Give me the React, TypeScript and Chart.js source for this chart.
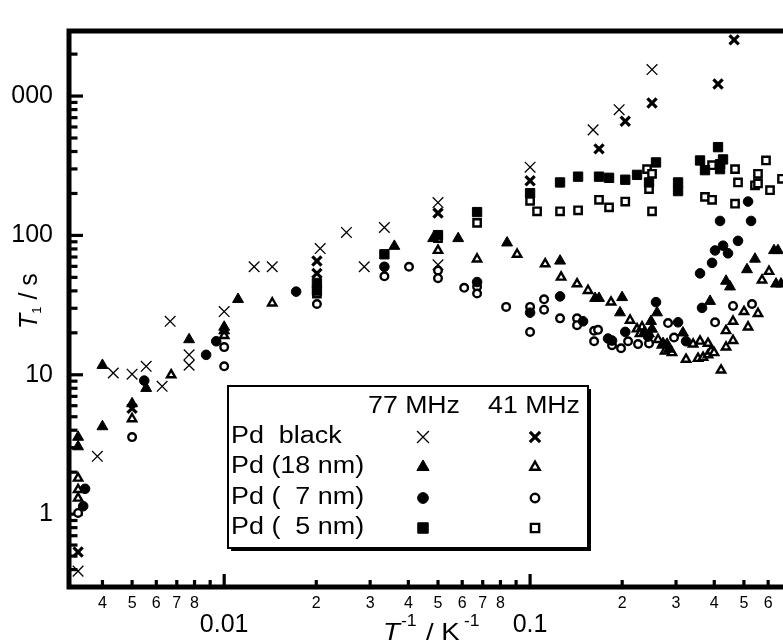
import React, { useEffect, useRef } from 'react';
import { Chart, registerables } from 'chart.js';
import { drawPoint } from 'chart.js/helpers';

Chart.register(...registerables);

// ---------------- data (x = 1/T in 1/K, y = T1 in s) ----------------
const blackX77 = [0.00333, 0.00385, 0.00434, 0.005, 0.00556, 0.00627, 0.00666, 0.00768, 0.00768, 0.01, 0.01253, 0.01436, 0.0206, 0.0251, 0.0287, 0.0334, 0.05, 0.05, 0.1, 0.1607, 0.1955, 0.2504];
const blackY77 = [0.39, 2.6, 10.3, 10.1, 11.5, 8.26, 24.2, 13.9, 11.7, 28.4, 59.6, 59.6, 80.5, 105, 59.6, 114, 172, 61.5, 309, 572, 798, 1549];

const blackX41 = [0.00333, 0.005, 0.0201, 0.0201, 0.05, 0.1, 0.168, 0.2047, 0.2504, 0.4115, 0.4645];
const blackY41 = [0.535, 5.74, 65.6, 53.4, 144.6, 247, 418, 660, 891, 1222, 2530];

const nm18X77 = [0.00333, 0.00333, 0.004, 0.004, 0.005, 0.00556, 0.00768, 0.01, 0.01, 0.0111, 0.036, 0.0482, 0.0582, 0.0841, 0.1253, 0.1631, 0.168, 0.1999, 0.1968, 0.2358, 0.2448, 0.2504, 0.2485, 0.26, 0.272, 0.2804, 0.2846, 0.316, 0.3875, 0.437, 0.4503, 0.5118, 0.5435, 0.6271, 0.646, 0.6368, 0.661];
const nm18Y77 = [3.57, 3.05, 11.7, 4.25, 6.21, 8.0, 17.9, 22.0, 20.7, 34.8, 83.7, 95.1, 95.1, 88.5, 65.6, 35.4, 35.4, 35.9, 27.9, 20.0, 19.7, 21.3, 24.2, 27.9, 16.8, 16.6, 15.3, 20.0, 33.7, 47.0, 42.8, 56.9, 67.7, 78.0, 78.0, 44.9, 44.9];

const nm18X41 = [0.00333, 0.00333, 0.00333, 0.005, 0.00671, 0.01, 0.01436, 0.05, 0.0671, 0.0907, 0.112, 0.1263, 0.1424, 0.1547, 0.1839, 0.2123, 0.2237, 0.2323, 0.2288, 0.262, 0.27, 0.2763, 0.2911, 0.3235, 0.341, 0.354, 0.3594, 0.3676, 0.3817, 0.3817, 0.3904, 0.3994, 0.421, 0.437, 0.437, 0.4607, 0.4607, 0.5004, 0.5159, 0.5559, 0.5731, 0.604];
const nm18Y41 = [1.81, 1.5, 1.3, 4.83, 9.98, 19.1, 32.7, 78.0, 67.7, 73.2, 62.5, 50.1, 44.9, 40.2, 33.2, 24.6, 21.3, 22.0, 19.7, 17.9, 16.3, 14.8, 14.4, 12.9, 16.6, 13.1, 17.4, 13.3, 16.8, 13.9, 14.8, 14.4, 10.8, 20.7, 15.8, 24.2, 17.6, 28.4, 22.0, 27.5, 47.8, 55.1];

const nm7X77 = [0.00351, 0.00346, 0.00548, 0.00873, 0.00942, 0.01719, 0.0334, 0.0671, 0.1, 0.1253, 0.149, 0.1798, 0.1853, 0.2047, 0.243, 0.258, 0.3046, 0.3235, 0.3648, 0.3594, 0.3934, 0.4024, 0.4273, 0.4436, 0.4783, 0.4178, 0.5159, 0.5277];
const nm7Y77 = [1.52, 1.14, 9.08, 13.9, 17.4, 39.5, 59.6, 46.3, 27.9, 36.5, 24.2, 18.2, 17.6, 20.3, 18.8, 33.2, 23.8, 17.4, 30.2, 53.4, 63.5, 78, 84.4, 74.4, 91.4, 127, 175, 127];

const nm7X41 = [0.00333, 0.005, 0.01, 0.01, 0.0201, 0.0334, 0.0402, 0.05, 0.05, 0.0609, 0.0671, 0.0671, 0.0835, 0.1, 0.1, 0.1111, 0.1111, 0.1253, 0.1424, 0.1424, 0.1619, 0.1668, 0.1619, 0.1853, 0.1983, 0.2091, 0.2254, 0.2448, 0.2825, 0.2955, 0.4024, 0.4607, 0.5314];
const nm7Y41 = [1.02, 3.57, 15.8, 11.5, 32.2, 50.9, 59.6, 56.0, 49.3, 42.1, 42.8, 38.3, 30.7, 30.7, 20.3, 34.8, 29.3, 25.4, 25.4, 22.7, 20.7, 21.0, 17.4, 16.3, 15.5, 17.4, 16.6, 16.8, 23.5, 18.5, 23.8, 31.2, 32.2];

const nm5X77 = [0.0201, 0.0201, 0.0334, 0.05, 0.0671, 0.1, 0.1253, 0.1435, 0.168, 0.1812, 0.2047, 0.2237, 0.258, 0.2448, 0.3046, 0.3046, 0.3594, 0.373, 0.4178, 0.4273, 0.4178, 0.4115];
const nm5Y77 = [45.6, 40.2, 73.2, 100.5, 147, 201, 240, 264, 264, 259, 251, 272, 334, 240, 240, 208, 345, 294, 324, 351, 299, 430];

const nm5X41 = [0.0201, 0.05, 0.0671, 0.1, 0.1054, 0.1253, 0.1435, 0.168, 0.1812, 0.2047, 0.2412, 0.2504, 0.2448, 0.2504, 0.373, 0.3934, 0.3934, 0.4677, 0.4677, 0.4783, 0.5435, 0.5559, 0.5559, 0.5904, 0.6085, 0.666];
const nm5Y41 = [38.3, 95.8, 123, 177, 149, 149, 151.5, 180, 159, 175, 299, 277, 215, 149, 189, 180, 319, 299, 169, 240, 229, 277, 236, 345, 211, 255];

const legendRows = ['Pd  black', 'Pd (18 nm)', 'Pd (  7 nm)', 'Pd (  5 nm)'];
const legendHeads = ['77 MHz', '41 MHz'];
const yTickLabels = ['1', '10', '100', '1000'];
const xDecadeLabels = ['0.001', '0.01', '0.1', '1'];

const X_MIN = 0.00311;
const X_MAX = 1;
const Y_MIN = 0.333;
const Y_MAX = 2930;

// ---------------- layout ----------------
const OFFSET_X = 30; // canvas starts 30px left of the page edge
const CROP_LEFT = 11; // the visible picture is cropped at the left, like the reference
const CANVAS_W = 880;
const CANVAS_H = 641;
const FONT = '"Liberation Sans", Arial, Helvetica, sans-serif';

const zip = (xs: number[], ys: number[]) => xs.map((x, i) => ({ x, y: ys[i] }));

function mantissa(v: number): number {
  if (!(v > 0)) return 0;
  const e = Math.floor(Math.log10(v) + 1e-9);
  const m = v / Math.pow(10, e);
  const r = Math.round(m);
  return Math.abs(m - r) < 1e-6 ? r : 0;
}

const markers = [
  { label: 'Pd black 77 MHz', xs: blackX77, ys: blackY77, pointStyle: 'crossRot', radius: 7.5, borderWidth: 1.3, fill: '#000' },
  { label: 'Pd black 41 MHz', xs: blackX41, ys: blackY41, pointStyle: 'crossRot', radius: 6.5, borderWidth: 3.2, fill: '#000' },
  { label: 'Pd 18 nm 77 MHz', xs: nm18X77, ys: nm18Y77, pointStyle: 'triangle', radius: 6.3, borderWidth: 1, fill: '#000' },
  { label: 'Pd 18 nm 41 MHz', xs: nm18X41, ys: nm18Y41, pointStyle: 'triangle', radius: 4.8, borderWidth: 2.4, fill: '#fff' },
  { label: 'Pd 7 nm 77 MHz', xs: nm7X77, ys: nm7Y77, pointStyle: 'circle', radius: 4.8, borderWidth: 1, fill: '#000' },
  { label: 'Pd 7 nm 41 MHz', xs: nm7X41, ys: nm7Y41, pointStyle: 'circle', radius: 3.8, borderWidth: 2.4, fill: '#fff' },
  { label: 'Pd 5 nm 77 MHz', xs: nm5X77, ys: nm5Y77, pointStyle: 'rect', radius: 6.6, borderWidth: 1, fill: '#000' },
  { label: 'Pd 5 nm 41 MHz', xs: nm5X41, ys: nm5Y41, pointStyle: 'rect', radius: 5.2, borderWidth: 2.4, fill: '#fff' },
];

function drawScaledText(ctx: CanvasRenderingContext2D, text: string, x: number, y: number, font: string, align: CanvasTextAlign, baseline: CanvasTextBaseline, sx: number) {
  ctx.save();
  ctx.fillStyle = '#000';
  ctx.font = font;
  ctx.textAlign = align;
  ctx.textBaseline = baseline;
  ctx.translate(x, y);
  ctx.scale(sx, 1);
  ctx.fillText(text, 0, 0);
  ctx.restore();
}

const framePlugin = {
  id: 'frameAndInwardTicks',
  beforeDatasetsDraw(chart: any) {
    const { ctx, chartArea: a, scales } = chart;
    ctx.save();
    ctx.strokeStyle = '#000';
    ctx.lineWidth = 5;
    ctx.strokeRect(a.left, a.top, a.right - a.left, a.bottom - a.top);
    ctx.lineWidth = 3.2;
    ctx.lineCap = 'butt';
    for (const t of scales.x.ticks) {
      const m = mantissa(t.value);
      if (!m) continue;
      const px = scales.x.getPixelForValue(t.value);
      if (px < a.left + 3 || px > a.right - 3) continue;
      const len = m === 1 ? 13 : 7;
      ctx.beginPath();
      ctx.moveTo(px, a.bottom);
      ctx.lineTo(px, a.bottom - len);
      ctx.stroke();
    }
    for (const t of scales.y.ticks) {
      const m = mantissa(t.value);
      if (!m) continue;
      const py = scales.y.getPixelForValue(t.value);
      if (py < a.top + 3 || py > a.bottom - 3) continue;
      const len = m === 1 ? 14 : 8.5;
      ctx.beginPath();
      ctx.moveTo(a.left, py);
      ctx.lineTo(a.left + len, py);
      ctx.stroke();
    }
    ctx.restore();
  },
};

const annotationPlugin = {
  id: 'legendAndTitles',
  afterDraw(chart: any) {
    const ctx: CanvasRenderingContext2D = chart.ctx;
    const X = (px: number) => px + OFFSET_X;
    ctx.save();

    // ---- legend box with shadow ----
    const bx = X(228), by = 386, bw = 360, bh = 162;
    ctx.fillStyle = '#000';
    ctx.fillRect(bx + 3, by + 3, bw, bh);
    ctx.fillStyle = '#fff';
    ctx.fillRect(bx, by, bw, bh);
    ctx.strokeStyle = '#000';
    ctx.lineWidth = 2;
    ctx.strokeRect(bx, by, bw, bh);

    const lf = `23px ${FONT}`;
    drawScaledText(ctx, legendHeads[0], X(414), 407, lf, 'center', 'middle', 1.16);
    drawScaledText(ctx, legendHeads[1], X(534), 407, lf, 'center', 'middle', 1.16);
    const rowY = [437, 467, 498, 528];
    const colX = [X(423), X(535)];
    legendRows.forEach((txt, i) => {
      drawScaledText(ctx, txt, X(231), rowY[i], lf, 'left', 'middle', 1.17);
      for (let c = 0; c < 2; c++) {
        const mk = markers[i * 2 + c];
        ctx.save();
        ctx.fillStyle = mk.fill;
        ctx.strokeStyle = '#000';
        ctx.lineWidth = mk.borderWidth;
        drawPoint(ctx, { pointStyle: mk.pointStyle as any, rotation: 0, radius: mk.radius * 1.12, borderWidth: mk.borderWidth }, colX[c], rowY[i]);
        ctx.restore();
      }
    });

    // ---- x axis title: T^-1 / K^-1 ----
    const base = 640;
    drawScaledText(ctx, 'T', X(383), base, `italic 24px ${FONT}`, 'left', 'alphabetic', 1.15);
    drawScaledText(ctx, '-1', X(401), base - 14, `16px ${FONT}`, 'left', 'alphabetic', 1.1);
    drawScaledText(ctx, '/ K', X(426), base, `24px ${FONT}`, 'left', 'alphabetic', 1.15);
    drawScaledText(ctx, '-1', X(464), base - 14, `16px ${FONT}`, 'left', 'alphabetic', 1.1);

    // ---- y axis title: T1 / s (rotated) ----
    ctx.save();
    ctx.fillStyle = '#000';
    ctx.translate(X(37), 329);
    ctx.rotate(-Math.PI / 2);
    ctx.textBaseline = 'alphabetic';
    ctx.textAlign = 'left';
    ctx.font = `italic 25px ${FONT}`;
    ctx.fillText('T', 0, 0);
    let w = ctx.measureText('T').width;
    ctx.font = `13px ${FONT}`;
    ctx.fillText('1', w, 4);
    w += ctx.measureText('1').width;
    ctx.font = `25px ${FONT}`;
    ctx.fillText(' / s', w, 0);
    ctx.restore();

    ctx.restore();
  },
};

export default function App() {
  const canvasRef = useRef<HTMLCanvasElement | null>(null);

  useEffect(() => {
    const canvas = canvasRef.current;
    if (!canvas) return;
    const datasets = markers.map((m) => ({
      label: m.label,
      data: zip(m.xs, m.ys),
      showLine: false,
      pointStyle: m.pointStyle as any,
      pointRadius: m.radius,
      pointHoverRadius: m.radius,
      pointBorderWidth: m.borderWidth,
      borderWidth: m.borderWidth,
      pointBackgroundColor: m.fill,
      backgroundColor: m.fill,
      pointBorderColor: '#000',
      borderColor: '#000',
    }));

    const chart = new Chart(canvas, {
      type: 'scatter',
      data: { datasets },
      plugins: [framePlugin, annotationPlugin],
      options: {
        animation: false,
        responsive: false,
        devicePixelRatio: 1,
        events: [],
        layout: { padding: { top: 14, right: 14, left: 0, bottom: 0 } },
        plugins: { legend: { display: false }, tooltip: { enabled: false }, title: { display: false } },
        scales: {
          x: {
            type: 'logarithmic',
            min: X_MIN,
            max: X_MAX,
            grid: { display: false, drawTicks: false },
            border: { display: false },
            afterFit: (s: any) => { s.height = 54; },
            ticks: {
              autoSkip: false,
              maxRotation: 0,
              minRotation: 0,
              padding: 7,
              color: '#000',
              font: (c: any) => {
                const v = c.tick ? c.tick.value : 0;
                return mantissa(v) === 1
                  ? { family: FONT, size: 25, lineHeight: 0.82 }
                  : { family: FONT, size: 16, lineHeight: 1.2 };
              },
              callback: (value: any) => {
                const v = Number(value);
                const m = mantissa(v);
                if (m === 1) {
                  const idx = Math.round(Math.log10(v)) + 3;
                  return ['', xDecadeLabels[idx] ?? String(v)];
                }
                if (m >= 2 && m <= 8) return String(m);
                return '';
              },
            },
          },
          y: {
            type: 'logarithmic',
            min: Y_MIN,
            max: Y_MAX,
            grid: { display: false, drawTicks: false },
            border: { display: false },
            afterFit: (s: any) => { s.width = 69 + OFFSET_X; },
            ticks: {
              autoSkip: false,
              padding: 16,
              color: '#000',
              font: { family: FONT, size: 25 },
              callback: (value: any) => {
                const v = Number(value);
                if (mantissa(v) !== 1) return '';
                const idx = Math.round(Math.log10(v));
                return yTickLabels[idx] ?? '';
              },
            },
          },
        },
      } as any,
    });
    return () => chart.destroy();
  }, []);

  return (
    <div style={{ position: 'fixed', left: 0, top: 0, width: 783, height: 641, background: '#fff' }}>
      <div style={{ position: 'absolute', left: CROP_LEFT, top: 0, width: 783 - CROP_LEFT, height: 641, overflow: 'hidden' }}>
        <canvas
          ref={canvasRef}
          width={CANVAS_W}
          height={CANVAS_H}
          style={{ position: 'absolute', left: -OFFSET_X - CROP_LEFT, top: 0, width: CANVAS_W, height: CANVAS_H }}
        />
      </div>
    </div>
  );
}
